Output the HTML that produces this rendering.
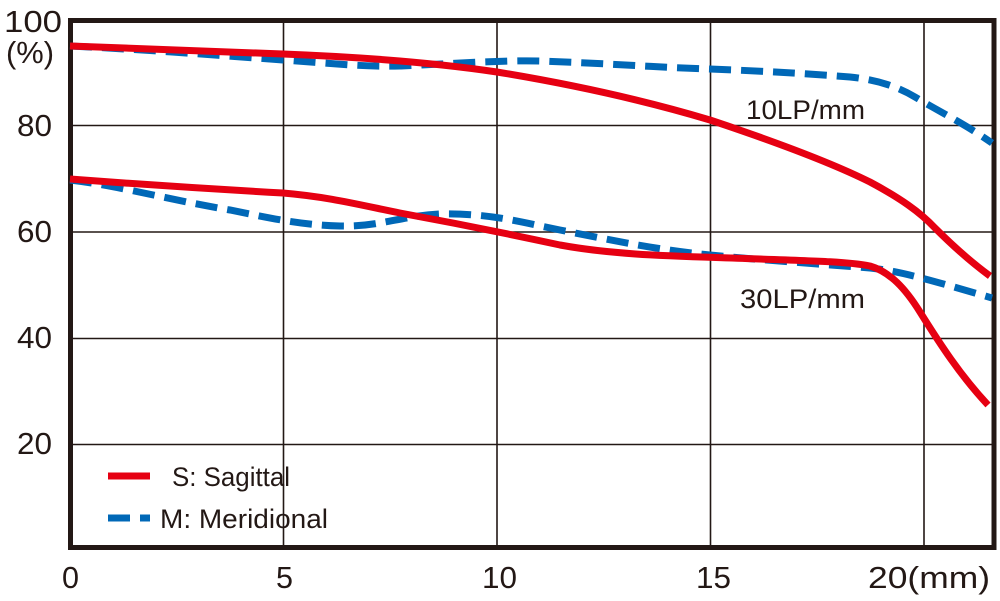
<!DOCTYPE html>
<html><head><style>body{margin:0;background:#fff}svg text{font-family:"Liberation Sans",sans-serif;fill:#231815}</style></head>
<body>
<svg width="1000" height="596" viewBox="0 0 1000 596" xmlns="http://www.w3.org/2000/svg">
<g stroke="#231815" stroke-width="1.6">
<line x1="283.5" y1="20" x2="283.5" y2="547"/><line x1="497" y1="20" x2="497" y2="547"/>
<line x1="710.5" y1="20" x2="710.5" y2="547"/><line x1="924" y1="20" x2="924" y2="547"/>
<line x1="70" y1="125.5" x2="994" y2="125.5"/><line x1="70" y1="232" x2="994" y2="232"/>
<line x1="70" y1="338.5" x2="994" y2="338.5"/><line x1="70" y1="444.5" x2="994" y2="444.5"/>
</g>
<rect x="70.5" y="20.5" width="923.5" height="527" fill="none" stroke="#231815" stroke-width="5"/>
<g fill="none" stroke-width="7" stroke-linecap="butt">
<path d="M70,46 C150,50 200,54 283,60 C330,63 360,67 400,66 C450,64 500,60 540,61 C620,64 650,67 710,69 C760,71 800,73 850,77 C880,80 900,88 915,97 C940,112 965,124 992,143" stroke="#0068b7" stroke-dasharray="22,10"/>
<path d="M70,180 C120,186 170,200 230,210 C270,218 300,225 340,226 C380,227 400,216 440,214 C490,213 520,222 560,230 C620,242 660,250 710,255 C760,260 820,264 870,268 C900,271 930,280 992,298" stroke="#0068b7" stroke-dasharray="22,10"/>
<path d="M70,46 C150,49 220,52 283,54 C360,57 430,62 497,72 C570,84 640,99 710,120 C770,140 830,162 870,182 C900,198 920,212 935,228 C955,248 975,265 990,276" stroke="#e60012"/>
<path d="M70,179 C150,185 230,190 283,193 C330,197 360,205 400,213 C460,224 500,232 560,245 C620,256 680,256 760,259 C820,261 850,262 870,266 C890,272 905,288 920,312 C940,344 960,375 988,405" stroke="#e60012"/>
<line x1="108" y1="476" x2="150" y2="476" stroke="#e60012"/>
<line x1="108" y1="518" x2="150" y2="518" stroke="#0068b7" stroke-dasharray="22,10"/>
</g>
<g font-size="31">
<text x="4" y="32" textLength="58" lengthAdjust="spacingAndGlyphs">100</text>
<text x="6" y="63" textLength="48" lengthAdjust="spacingAndGlyphs">(%)</text>
<text x="17" y="136" textLength="35" lengthAdjust="spacingAndGlyphs">80</text>
<text x="17" y="242" textLength="35" lengthAdjust="spacingAndGlyphs">60</text>
<text x="17" y="348" textLength="35" lengthAdjust="spacingAndGlyphs">40</text>
<text x="17" y="454" textLength="35" lengthAdjust="spacingAndGlyphs">20</text>
<text x="62" y="588" textLength="17" lengthAdjust="spacingAndGlyphs">0</text>
<text x="276" y="588" textLength="17" lengthAdjust="spacingAndGlyphs">5</text>
<text x="482" y="588" textLength="35" lengthAdjust="spacingAndGlyphs">10</text>
<text x="696" y="588" textLength="35" lengthAdjust="spacingAndGlyphs">15</text>
<text x="868" y="588" textLength="122" lengthAdjust="spacingAndGlyphs">20(mm)</text>
</g>
<g font-size="27">
<text x="746" y="119" textLength="119" lengthAdjust="spacingAndGlyphs">10LP/mm</text>
<text x="740" y="308" textLength="125" lengthAdjust="spacingAndGlyphs">30LP/mm</text>
<text x="172" y="486" textLength="118" lengthAdjust="spacingAndGlyphs">S: Sagittal</text>
<text x="160" y="528" textLength="168" lengthAdjust="spacingAndGlyphs">M: Meridional</text>
</g>
</svg>
</body></html>
